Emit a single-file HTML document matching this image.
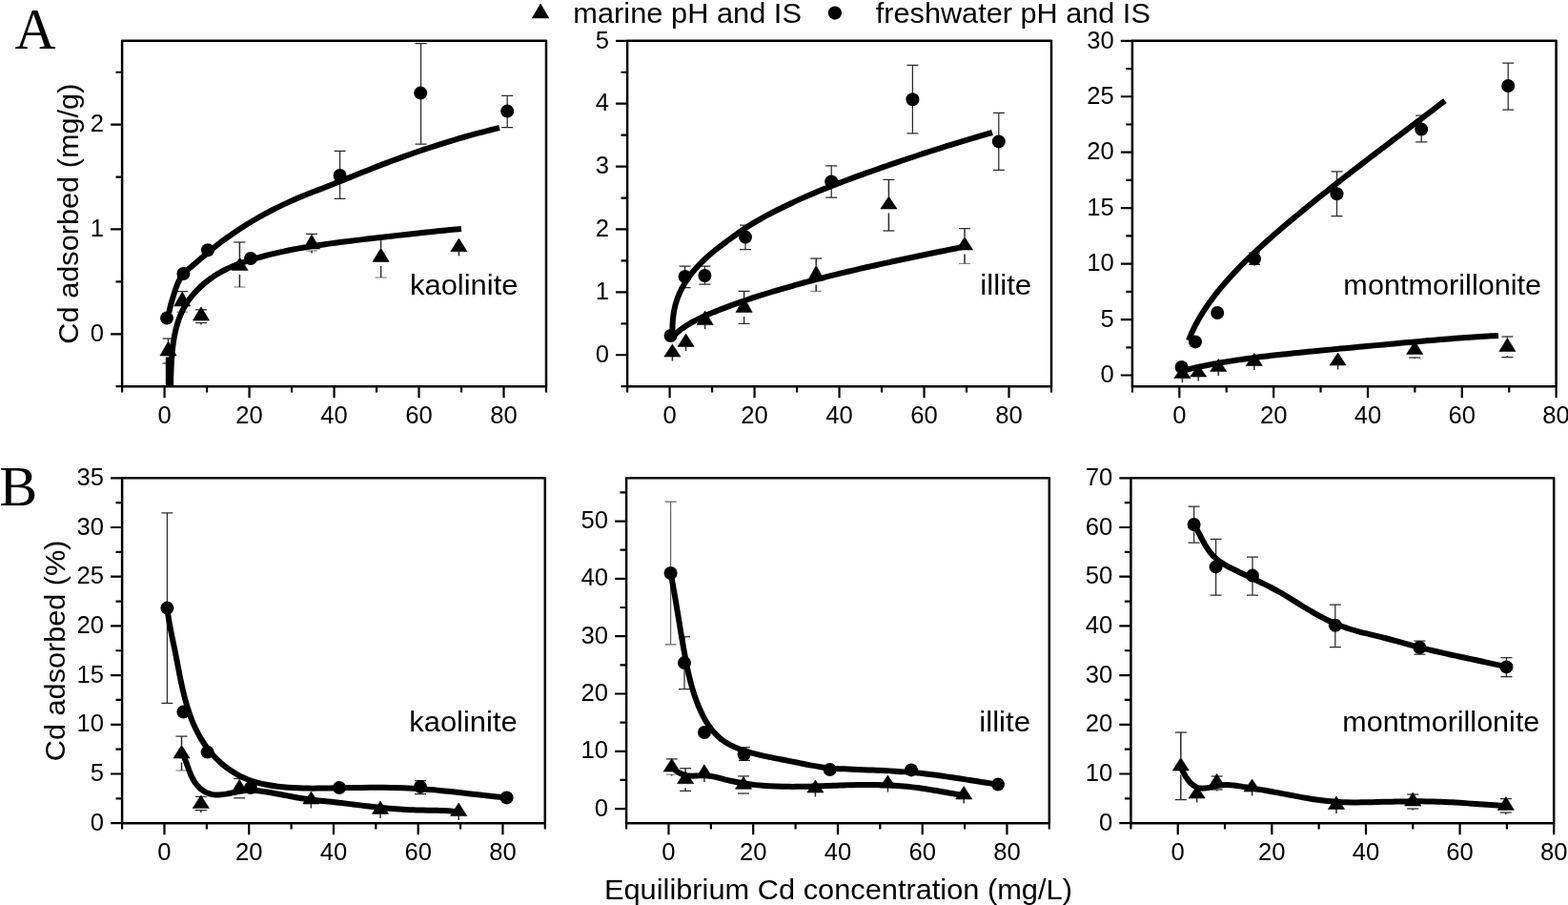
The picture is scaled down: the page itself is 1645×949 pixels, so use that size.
<!DOCTYPE html>
<html lang="en"><head><meta charset="utf-8"><title>Cd adsorption on clay minerals</title>
<style>html,body{margin:0;padding:0;background:#fff}body{width:1645px;height:949px;overflow:hidden}svg{display:block}text{fill:#000}</style></head><body>
<svg width="1645" height="949" viewBox="0 0 1645 949">
<rect width="1645" height="949" fill="#fff"/>
<rect x="128.1" y="42.8" width="444.9" height="362.4" fill="none" stroke="#000" stroke-width="2.5" stroke-linejoin="round"/>
<path d="M172.59,405.2V417.3M261.57,405.2V417.3M350.55,405.2V417.3M439.53,405.2V417.3M528.51,405.2V417.3M128.1,405.2V411.6M217.08,405.2V411.6M306.06,405.2V411.6M395.04,405.2V411.6M484.02,405.2V411.6M573,405.2V411.6M128.1,350.29H116M128.1,240.47H116M128.1,130.65H116M128.1,405.2H121.5M128.1,295.38H121.5M128.1,185.56H121.5M128.1,75.75H121.5" fill="none" stroke="#000" stroke-width="2.2" stroke-linecap="butt"/>
<text transform="translate(108.9,357.79)" font-family='"Liberation Sans", Arial, Helvetica, sans-serif' font-size="25.6" text-anchor="end" >0</text>
<text transform="translate(108.9,247.97)" font-family='"Liberation Sans", Arial, Helvetica, sans-serif' font-size="25.6" text-anchor="end" >1</text>
<text transform="translate(108.9,138.15)" font-family='"Liberation Sans", Arial, Helvetica, sans-serif' font-size="25.6" text-anchor="end" >2</text>
<text transform="translate(172.59,443.6)" font-family='"Liberation Sans", Arial, Helvetica, sans-serif' font-size="25.6" text-anchor="middle" >0</text>
<text transform="translate(261.57,443.6)" font-family='"Liberation Sans", Arial, Helvetica, sans-serif' font-size="25.6" text-anchor="middle" >20</text>
<text transform="translate(350.55,443.6)" font-family='"Liberation Sans", Arial, Helvetica, sans-serif' font-size="25.6" text-anchor="middle" >40</text>
<text transform="translate(439.53,443.6)" font-family='"Liberation Sans", Arial, Helvetica, sans-serif' font-size="25.6" text-anchor="middle" >60</text>
<text transform="translate(528.51,443.6)" font-family='"Liberation Sans", Arial, Helvetica, sans-serif' font-size="25.6" text-anchor="middle" >80</text>
<path d="M356.6,158.4V208.4M350.6,158.4H362.6M350.6,208.4H362.6" fill="none" stroke="#2b2b2b" stroke-width="1.25"/>
<path d="M441.6,45.6V151M435.6,45.6H447.6M435.6,151H447.6" fill="none" stroke="#2b2b2b" stroke-width="1.25"/>
<path d="M532.2,100.4V133.6M526.2,100.4H538.2M526.2,133.6H538.2" fill="none" stroke="#2b2b2b" stroke-width="1.25"/>
<path d="M170.5,355H182.5" fill="none" stroke="#2b2b2b" stroke-width="1.25"/>
<path d="M170.5,381H182.5" fill="none" stroke="#2b2b2b" stroke-width="1.25"/>
<path d="M176.5,355V358M176.5,377.5V381" fill="none" stroke="#2b2b2b" stroke-width="1.5"/>
<path d="M185.2,305.6H197.2" fill="none" stroke="#2b2b2b" stroke-width="1.25"/>
<path d="M185.2,327.2H197.2" fill="none" stroke="#8c8c8c" stroke-width="1.25"/>
<path d="M191.2,305.6V306M191.2,325.5V327.2" fill="none" stroke="#2b2b2b" stroke-width="1.5"/>
<path d="M205,324.8H217" fill="none" stroke="#2b2b2b" stroke-width="1.25"/>
<path d="M205,338.5H217" fill="none" stroke="#2b2b2b" stroke-width="1.25"/>
<path d="M211,340.5V338.5" fill="none" stroke="#2b2b2b" stroke-width="1.5"/>
<path d="M245.4,254H257.4" fill="none" stroke="#2b2b2b" stroke-width="1.25"/>
<path d="M245.4,301H257.4" fill="none" stroke="#8c8c8c" stroke-width="1.25"/>
<path d="M251.4,254V270M251.4,287.9V301" fill="none" stroke="#2b2b2b" stroke-width="1.5"/>
<path d="M321,245.4H333" fill="none" stroke="#2b2b2b" stroke-width="1.25"/>
<path d="M321,263H333" fill="none" stroke="#8c8c8c" stroke-width="1.25"/>
<path d="M327,245.4V246M327,265.5V263" fill="none" stroke="#2b2b2b" stroke-width="1.5"/>
<path d="M393.6,248H405.6" fill="none" stroke="#2b2b2b" stroke-width="1.25"/>
<path d="M393.6,291H405.6" fill="none" stroke="#8c8c8c" stroke-width="1.25"/>
<path d="M399.6,248V260.2M399.6,278.9V291" fill="none" stroke="#2b2b2b" stroke-width="1.5"/>
<path d="M481.4,263.8V268.3" fill="none" stroke="#2b2b2b" stroke-width="1.5"/>
<path d="M177.3,328C177.37,327.59 177.58,326.35 177.74,325.53C177.9,324.72 178.08,323.91 178.27,323.1C178.45,322.29 178.65,321.49 178.86,320.68C179.07,319.88 179.29,319.08 179.51,318.29C179.74,317.49 179.97,316.69 180.21,315.9C180.44,315.1 180.69,314.31 180.93,313.51C181.18,312.71 181.43,311.91 181.68,311.11C181.92,310.31 182.17,309.51 182.43,308.7C182.68,307.9 182.93,307.09 183.18,306.28C183.44,305.48 183.7,304.67 183.97,303.87C184.24,303.07 184.51,302.26 184.8,301.47C185.08,300.68 185.38,299.89 185.69,299.11C186,298.33 186.32,297.56 186.66,296.8C187,296.04 187.35,295.29 187.73,294.56C188.1,293.82 188.5,293.1 188.92,292.39C189.33,291.69 189.77,291 190.24,290.33C190.71,289.66 191.2,289.01 191.71,288.37C192.23,287.74 192.76,287.12 193.32,286.51C193.87,285.91 194.45,285.32 195.03,284.73C195.62,284.15 196.23,283.58 196.84,283.02C197.45,282.46 198.08,281.9 198.71,281.35C199.34,280.8 199.98,280.26 200.63,279.72C201.27,279.18 201.92,278.64 202.56,278.1C203.21,277.57 203.45,277.38 204.5,276.49C205.55,275.6 206.94,274.42 208.85,272.78C210.76,271.14 213.58,268.67 215.97,266.65C218.36,264.63 220.75,262.62 223.19,260.66C225.62,258.7 228.08,256.77 230.56,254.87C233.05,252.98 235.56,251.12 238.1,249.29C240.63,247.47 243.19,245.67 245.78,243.92C248.36,242.16 250.97,240.43 253.6,238.74C256.23,237.05 258.88,235.39 261.55,233.76C264.22,232.14 266.92,230.55 269.63,228.99C272.34,227.43 275.08,225.91 277.83,224.41C280.58,222.92 283.35,221.46 286.14,220.04C288.92,218.61 291.73,217.22 294.55,215.86C297.37,214.5 300.2,213.18 303.05,211.88C305.9,210.59 308.77,209.33 311.64,208.1C314.52,206.88 317.41,205.69 320.31,204.52C323.21,203.35 326.13,202.22 329.04,201.08C331.95,199.95 334.87,198.83 337.78,197.7C340.69,196.56 343.6,195.42 346.51,194.27C349.41,193.12 352.31,191.96 355.21,190.8C358.11,189.63 361.01,188.46 363.91,187.29C366.81,186.12 369.71,184.94 372.61,183.78C375.51,182.61 378.41,181.44 381.31,180.28C384.22,179.12 387.12,177.96 390.03,176.82C392.94,175.68 395.86,174.54 398.78,173.42C401.7,172.3 404.62,171.19 407.55,170.09C410.48,168.99 413.42,167.9 416.35,166.82C419.29,165.75 422.23,164.68 425.18,163.63C428.13,162.58 431.08,161.53 434.03,160.51C436.99,159.48 439.95,158.46 442.91,157.46C445.88,156.46 448.85,155.47 451.82,154.5C454.79,153.53 457.77,152.56 460.75,151.62C463.73,150.67 466.72,149.74 469.71,148.82C472.7,147.9 475.69,147 478.69,146.11C481.69,145.23 484.7,144.35 487.7,143.5C490.71,142.64 493.72,141.8 496.74,140.97C499.75,140.15 502.78,139.34 505.8,138.55C508.82,137.76 511.85,136.98 514.89,136.22C517.92,135.46 522.48,134.37 524,134" fill="none" stroke="#000" stroke-width="6.0" stroke-linecap="butt" stroke-linejoin="round"/>
<path d="M178.6,405C178.62,404.59 178.68,403.38 178.72,402.57C178.76,401.76 178.79,400.94 178.83,400.13C178.87,399.31 178.9,398.49 178.94,397.67C178.98,396.85 179.01,396.02 179.05,395.2C179.08,394.37 179.12,393.54 179.16,392.71C179.19,391.88 179.23,391.05 179.27,390.22C179.31,389.38 179.35,388.55 179.39,387.71C179.43,386.88 179.47,386.04 179.51,385.2C179.56,384.36 179.6,383.53 179.65,382.69C179.7,381.85 179.75,380.93 179.8,380.16C179.85,379.4 179.87,378.96 179.93,378.12C179.99,377.28 180.08,376.03 180.15,375.11C180.22,374.19 180.28,373.43 180.35,372.59C180.42,371.74 180.49,370.9 180.57,370.06C180.65,369.22 180.73,368.38 180.82,367.54C180.91,366.7 181,365.86 181.1,365.02C181.19,364.18 181.29,363.35 181.4,362.51C181.51,361.68 181.62,360.84 181.74,360.01C181.85,359.17 181.98,358.34 182.1,357.51C182.23,356.68 182.37,355.86 182.51,355.03C182.65,354.2 182.8,353.38 182.95,352.56C183.11,351.74 183.27,350.92 183.44,350.1C183.6,349.28 183.78,348.47 183.96,347.66C184.15,346.85 184.31,346.13 184.53,345.23C184.76,344.34 184.72,344.19 185.3,342.29C185.88,340.38 186.98,336.57 188,333.8C189.03,331.03 190.17,328.3 191.47,325.65C192.77,323 194.2,320.4 195.81,317.9C197.41,315.39 199.19,312.96 201.09,310.62C202.99,308.28 205.06,306.01 207.2,303.85C209.34,301.68 211.62,299.6 213.93,297.63C216.24,295.65 218.63,293.76 221.08,291.99C223.52,290.21 226.03,288.55 228.6,287C231.16,285.46 233.8,284.05 236.48,282.72C239.16,281.4 241.9,280.19 244.67,279.05C247.43,277.9 250.25,276.86 253.07,275.85C255.89,274.84 258.75,273.9 261.61,273C264.46,272.09 267.33,271.22 270.21,270.4C273.09,269.57 275.98,268.78 278.88,268.02C281.78,267.26 284.69,266.54 287.6,265.85C290.52,265.16 293.44,264.5 296.37,263.87C299.3,263.23 302.24,262.63 305.18,262.06C308.13,261.48 311.08,260.93 314.03,260.4C316.99,259.87 319.95,259.36 322.92,258.88C325.88,258.39 328.85,257.92 331.82,257.47C334.8,257.02 337.78,256.59 340.75,256.17C343.73,255.75 346.72,255.35 349.7,254.95C352.68,254.55 355.67,254.17 358.65,253.8C361.64,253.42 364.63,253.05 367.61,252.69C370.6,252.32 373.58,251.97 376.57,251.61C379.55,251.25 382.54,250.9 385.52,250.55C388.5,250.19 391.48,249.84 394.46,249.49C397.44,249.14 400.42,248.79 403.4,248.45C406.38,248.1 409.36,247.75 412.34,247.41C415.32,247.07 418.29,246.73 421.27,246.4C424.25,246.06 427.23,245.73 430.21,245.4C433.19,245.07 436.17,244.75 439.15,244.43C442.13,244.11 445.12,243.79 448.1,243.48C451.08,243.17 454.07,242.86 457.06,242.56C460.04,242.26 463.03,241.96 466.02,241.67C469.01,241.38 472.01,241.09 475,240.82C478,240.54 482.5,240.14 484,240" fill="none" stroke="#000" stroke-width="6.0" stroke-linecap="butt" stroke-linejoin="round"/>
<circle cx="175" cy="333.6" r="7" fill="#000"/>
<circle cx="192.4" cy="287" r="7" fill="#000"/>
<circle cx="218" cy="262.2" r="7" fill="#000"/>
<circle cx="263" cy="271" r="7" fill="#000"/>
<circle cx="356.6" cy="184" r="7" fill="#000"/>
<circle cx="441.2" cy="97.6" r="7" fill="#000"/>
<circle cx="532.2" cy="116.6" r="7" fill="#000"/>
<polygon points="176.5,358 185.1,373 167.9,373" fill="#000" stroke="#000" stroke-width="0.6" stroke-linejoin="round"/>
<polygon points="191.2,306 199.8,321 182.6,321" fill="#000" stroke="#000" stroke-width="0.6" stroke-linejoin="round"/>
<polygon points="211,321.8 219.6,336 202.4,336" fill="#000" stroke="#000" stroke-width="0.6" stroke-linejoin="round"/>
<polygon points="251.6,270 260.2,283.4 243,283.4" fill="#000" stroke="#000" stroke-width="0.6" stroke-linejoin="round"/>
<polygon points="327,246 335.6,261 318.4,261" fill="#000" stroke="#000" stroke-width="0.6" stroke-linejoin="round"/>
<polygon points="399.6,260.2 408.2,274.4 391,274.4" fill="#000" stroke="#000" stroke-width="0.6" stroke-linejoin="round"/>
<polygon points="481.4,250 490,263.8 472.8,263.8" fill="#000" stroke="#000" stroke-width="0.6" stroke-linejoin="round"/>
<path d="M178,374.5V405" fill="none" stroke="#000" stroke-width="8.4"/>
<rect x="658.1" y="42.8" width="444.9" height="362.4" fill="none" stroke="#000" stroke-width="2.5" stroke-linejoin="round"/>
<path d="M702.59,405.2V417.3M791.57,405.2V417.3M880.55,405.2V417.3M969.53,405.2V417.3M1058.51,405.2V417.3M658.1,405.2V411.6M747.08,405.2V411.6M836.06,405.2V411.6M925.04,405.2V411.6M1014.02,405.2V411.6M1103,405.2V411.6M658.1,372.25H646M658.1,306.36H646M658.1,240.47H646M658.1,174.58H646M658.1,108.69H646M658.1,42.8H646M658.1,405.2H651.5M658.1,339.31H651.5M658.1,273.42H651.5M658.1,207.53H651.5M658.1,141.64H651.5M658.1,75.75H651.5" fill="none" stroke="#000" stroke-width="2.2" stroke-linecap="butt"/>
<text transform="translate(638.9,379.75)" font-family='"Liberation Sans", Arial, Helvetica, sans-serif' font-size="25.6" text-anchor="end" >0</text>
<text transform="translate(638.9,313.86)" font-family='"Liberation Sans", Arial, Helvetica, sans-serif' font-size="25.6" text-anchor="end" >1</text>
<text transform="translate(638.9,247.97)" font-family='"Liberation Sans", Arial, Helvetica, sans-serif' font-size="25.6" text-anchor="end" >2</text>
<text transform="translate(638.9,182.08)" font-family='"Liberation Sans", Arial, Helvetica, sans-serif' font-size="25.6" text-anchor="end" >3</text>
<text transform="translate(638.9,116.19)" font-family='"Liberation Sans", Arial, Helvetica, sans-serif' font-size="25.6" text-anchor="end" >4</text>
<text transform="translate(638.9,50.7)" font-family='"Liberation Sans", Arial, Helvetica, sans-serif' font-size="25.6" text-anchor="end" >5</text>
<text transform="translate(702.59,443.6)" font-family='"Liberation Sans", Arial, Helvetica, sans-serif' font-size="25.6" text-anchor="middle" >0</text>
<text transform="translate(791.57,443.6)" font-family='"Liberation Sans", Arial, Helvetica, sans-serif' font-size="25.6" text-anchor="middle" >20</text>
<text transform="translate(880.55,443.6)" font-family='"Liberation Sans", Arial, Helvetica, sans-serif' font-size="25.6" text-anchor="middle" >40</text>
<text transform="translate(969.53,443.6)" font-family='"Liberation Sans", Arial, Helvetica, sans-serif' font-size="25.6" text-anchor="middle" >60</text>
<text transform="translate(1058.51,443.6)" font-family='"Liberation Sans", Arial, Helvetica, sans-serif' font-size="25.6" text-anchor="middle" >80</text>
<path d="M718.6,279V301.6M712.6,279H724.6M712.6,301.6H724.6" fill="none" stroke="#2b2b2b" stroke-width="1.25"/>
<path d="M739.4,279V298M733.4,279H745.4M733.4,298H745.4" fill="none" stroke="#2b2b2b" stroke-width="1.25"/>
<path d="M782,236V261.6M776,236H788M776,261.6H788" fill="none" stroke="#2b2b2b" stroke-width="1.25"/>
<path d="M872.2,173.8V207.2M866.2,173.8H878.2M866.2,207.2H878.2" fill="none" stroke="#2b2b2b" stroke-width="1.25"/>
<path d="M957.4,68.4V139.8M951.4,68.4H963.4M951.4,139.8H963.4" fill="none" stroke="#2b2b2b" stroke-width="1.25"/>
<path d="M1047.8,118.4V178.4M1041.8,118.4H1053.8M1041.8,178.4H1053.8" fill="none" stroke="#2b2b2b" stroke-width="1.25"/>
<path d="M705.4,374V378.5" fill="none" stroke="#2b2b2b" stroke-width="1.5"/>
<path d="M719.6,363.4V367.9" fill="none" stroke="#2b2b2b" stroke-width="1.5"/>
<path d="M739.6,340.6V345.1" fill="none" stroke="#2b2b2b" stroke-width="1.5"/>
<path d="M774.6,305.4H786.6" fill="none" stroke="#2b2b2b" stroke-width="1.25"/>
<path d="M774.6,339.4H786.6" fill="none" stroke="#2b2b2b" stroke-width="1.25"/>
<path d="M780.6,305.4V312M780.6,331.9V339.4" fill="none" stroke="#2b2b2b" stroke-width="1.5"/>
<path d="M850.2,271H862.2" fill="none" stroke="#2b2b2b" stroke-width="1.25"/>
<path d="M850.2,305.4H862.2" fill="none" stroke="#8c8c8c" stroke-width="1.25"/>
<path d="M856.2,271V278.6M856.2,298.5V305.4" fill="none" stroke="#2b2b2b" stroke-width="1.5"/>
<path d="M926.4,188.4H938.4" fill="none" stroke="#2b2b2b" stroke-width="1.25"/>
<path d="M926.4,242H938.4" fill="none" stroke="#2b2b2b" stroke-width="1.25"/>
<path d="M932.4,188.4V206M932.4,223.5V242" fill="none" stroke="#2b2b2b" stroke-width="1.5"/>
<path d="M1006,239.6H1018" fill="none" stroke="#2b2b2b" stroke-width="1.25"/>
<path d="M1006,276.4H1018" fill="none" stroke="#8c8c8c" stroke-width="1.25"/>
<path d="M1012,239.6V248.6M1012,266.5V276.4" fill="none" stroke="#2b2b2b" stroke-width="1.5"/>
<path d="M705.6,353C705.59,352.59 705.53,351.36 705.51,350.54C705.48,349.71 705.47,348.89 705.46,348.06C705.45,347.23 705.44,346.33 705.45,345.56C705.45,344.79 705.45,344.27 705.47,343.43C705.49,342.6 705.53,341.44 705.57,340.54C705.6,339.64 705.65,338.86 705.7,338.02C705.76,337.18 705.82,336.34 705.89,335.5C705.96,334.67 706.05,333.83 706.14,332.99C706.23,332.15 706.33,331.32 706.45,330.48C706.56,329.65 706.68,328.82 706.82,327.99C706.95,327.16 707.09,326.33 707.25,325.5C707.41,324.68 707.57,323.86 707.75,323.04C707.93,322.22 708.13,321.41 708.33,320.6C708.53,319.79 708.75,318.98 708.98,318.18C709.21,317.38 709.45,316.59 709.7,315.8C709.96,315.01 710.22,314.22 710.5,313.44C710.78,312.66 711.07,311.88 711.37,311.11C711.67,310.34 711.99,309.57 712.31,308.81C712.63,308.04 712.97,307.29 713.32,306.53C713.66,305.78 714.02,305.04 714.39,304.29C714.75,303.55 715.13,302.81 715.52,302.08C715.9,301.35 716.3,300.62 716.71,299.9C717.12,299.18 717.53,298.46 717.96,297.75C718.39,297.04 718.36,296.99 719.26,295.63C720.17,294.26 721.72,291.82 723.42,289.56C725.11,287.29 727.34,284.47 729.44,282.04C731.54,279.62 733.76,277.28 736.03,275.01C738.3,272.74 740.67,270.56 743.07,268.44C745.47,266.31 747.95,264.26 750.45,262.24C752.95,260.22 755.51,258.26 758.07,256.32C760.64,254.38 763.24,252.48 765.83,250.59C768.42,248.7 771.01,246.81 773.63,244.96C776.24,243.12 778.85,241.27 781.51,239.51C784.18,237.75 786.89,236.04 789.63,234.38C792.37,232.72 795.16,231.11 797.95,229.54C800.75,227.96 803.58,226.43 806.41,224.93C809.24,223.42 812.09,221.94 814.95,220.49C817.82,219.04 820.69,217.62 823.58,216.22C826.46,214.83 829.36,213.45 832.27,212.1C835.17,210.75 838.09,209.43 841.02,208.13C843.95,206.82 846.89,205.54 849.83,204.28C852.78,203.01 855.74,201.77 858.7,200.55C861.66,199.32 864.64,198.12 867.62,196.93C870.59,195.74 873.58,194.57 876.57,193.41C879.56,192.25 882.56,191.1 885.57,189.97C888.57,188.84 891.58,187.72 894.59,186.61C897.6,185.51 900.62,184.41 903.64,183.32C906.66,182.24 909.69,181.16 912.72,180.09C915.74,179.02 918.77,177.96 921.8,176.9C924.83,175.84 927.87,174.79 930.9,173.74C933.93,172.7 936.97,171.66 940,170.62C943.04,169.58 946.08,168.55 949.12,167.53C952.16,166.51 955.2,165.49 958.24,164.47C961.29,163.46 964.33,162.46 967.38,161.46C970.42,160.46 973.47,159.47 976.53,158.48C979.58,157.5 982.63,156.52 985.69,155.55C988.74,154.58 991.8,153.62 994.86,152.66C997.92,151.71 1000.99,150.76 1004.05,149.83C1007.12,148.89 1010.19,147.96 1013.26,147.04C1016.33,146.12 1019.41,145.2 1022.49,144.3C1025.57,143.4 1028.65,142.5 1031.73,141.62C1034.82,140.74 1039.45,139.43 1041,139" fill="none" stroke="#000" stroke-width="6.0" stroke-linecap="butt" stroke-linejoin="round"/>
<path d="M705.6,353C705.9,352.7 706.81,351.82 707.42,351.25C708.04,350.67 708.69,350.09 709.29,349.56C709.9,349.04 710.4,348.61 711.05,348.08C711.69,347.55 712.47,346.92 713.16,346.39C713.84,345.86 714.53,345.35 715.15,344.9C715.76,344.44 716.16,344.16 716.84,343.69C717.52,343.22 718.48,342.56 719.23,342.07C719.98,341.58 720.62,341.17 721.32,340.73C722.03,340.3 722.74,339.87 723.45,339.45C724.16,339.02 724.88,338.61 725.6,338.2C726.32,337.79 727.04,337.39 727.77,337C728.5,336.61 729.24,336.22 729.97,335.84C730.71,335.46 731.45,335.08 732.19,334.71C732.94,334.34 733.69,333.98 734.44,333.62C735.19,333.26 735.94,332.9 736.69,332.55C737.45,332.2 738.21,331.86 738.97,331.52C739.73,331.18 740.49,330.84 741.26,330.51C742.02,330.17 742.79,329.84 743.56,329.52C744.32,329.19 745.09,328.87 745.86,328.54C746.64,328.22 747.41,327.9 748.18,327.59C748.95,327.27 749.73,326.96 750.5,326.65C751.28,326.33 752.05,326.02 752.83,325.71C753.6,325.41 754.38,325.1 755.16,324.79C755.93,324.49 756.22,324.37 757.49,323.88C758.76,323.39 760.76,322.62 762.78,321.86C764.81,321.1 767.34,320.15 769.63,319.32C771.92,318.49 774.21,317.67 776.5,316.86C778.8,316.06 781.1,315.26 783.4,314.48C785.71,313.7 788.01,312.93 790.32,312.17C792.63,311.41 794.95,310.66 797.27,309.92C799.58,309.18 801.9,308.46 804.23,307.74C806.55,307.02 808.88,306.31 811.21,305.61C813.54,304.91 815.87,304.22 818.2,303.54C820.54,302.85 822.87,302.18 825.21,301.51C827.55,300.84 829.89,300.18 832.23,299.53C834.57,298.87 836.92,298.23 839.26,297.59C841.61,296.95 843.95,296.31 846.3,295.68C848.65,295.06 851,294.43 853.35,293.82C855.7,293.2 858.06,292.59 860.41,291.99C862.77,291.39 865.12,290.79 867.48,290.19C869.84,289.6 872.2,289.01 874.56,288.43C876.92,287.85 879.28,287.27 881.64,286.7C884.01,286.13 886.37,285.56 888.73,285C891.1,284.43 893.47,283.88 895.83,283.32C898.2,282.77 900.57,282.22 902.94,281.67C905.31,281.13 907.68,280.59 910.05,280.05C912.42,279.51 914.8,278.98 917.17,278.45C919.54,277.92 921.92,277.39 924.29,276.87C926.67,276.35 929.04,275.83 931.42,275.31C933.79,274.79 936.17,274.28 938.55,273.77C940.93,273.26 943.31,272.75 945.68,272.24C948.06,271.74 950.44,271.23 952.82,270.73C955.2,270.23 957.58,269.73 959.96,269.24C962.35,268.74 964.73,268.24 967.11,267.75C969.49,267.26 971.87,266.77 974.25,266.28C976.64,265.79 979.02,265.3 981.4,264.81C983.79,264.32 986.17,263.84 988.55,263.35C990.93,262.86 993.32,262.38 995.7,261.9C998.08,261.41 1000.47,260.93 1002.85,260.45C1005.23,259.96 1008.81,259.24 1010,259" fill="none" stroke="#000" stroke-width="6.0" stroke-linecap="butt" stroke-linejoin="round"/>
<circle cx="703.6" cy="352" r="7" fill="#000"/>
<circle cx="718.6" cy="290" r="7" fill="#000"/>
<circle cx="739.4" cy="289" r="7" fill="#000"/>
<circle cx="782" cy="248.6" r="7" fill="#000"/>
<circle cx="872.2" cy="190.4" r="7" fill="#000"/>
<circle cx="957.4" cy="104.2" r="7" fill="#000"/>
<circle cx="1047.8" cy="148.4" r="7" fill="#000"/>
<polygon points="705.4,361 714,374 696.8,374" fill="#000" stroke="#000" stroke-width="0.6" stroke-linejoin="round"/>
<polygon points="719.6,350 728.2,363.4 711,363.4" fill="#000" stroke="#000" stroke-width="0.6" stroke-linejoin="round"/>
<polygon points="739.6,326 748.2,340.6 731,340.6" fill="#000" stroke="#000" stroke-width="0.6" stroke-linejoin="round"/>
<polygon points="780.6,312 789.2,327.4 772,327.4" fill="#000" stroke="#000" stroke-width="0.6" stroke-linejoin="round"/>
<polygon points="856.2,278.6 864.8,294 847.6,294" fill="#000" stroke="#000" stroke-width="0.6" stroke-linejoin="round"/>
<polygon points="932.4,206 941,219 923.8,219" fill="#000" stroke="#000" stroke-width="0.6" stroke-linejoin="round"/>
<polygon points="1012,248.6 1020.6,262 1003.4,262" fill="#000" stroke="#000" stroke-width="0.6" stroke-linejoin="round"/>
<rect x="1187.9" y="42.8" width="444.7" height="362.4" fill="none" stroke="#000" stroke-width="2.5" stroke-linejoin="round"/>
<path d="M1237.31,405.2V417.3M1336.13,405.2V417.3M1434.96,405.2V417.3M1533.78,405.2V417.3M1632.6,405.2V417.3M1187.9,405.2V411.6M1286.72,405.2V411.6M1385.54,405.2V411.6M1484.37,405.2V411.6M1583.19,405.2V411.6M1187.9,393.51H1175.8M1187.9,335.06H1175.8M1187.9,276.61H1175.8M1187.9,218.15H1175.8M1187.9,159.7H1175.8M1187.9,101.25H1175.8M1187.9,42.8H1175.8M1187.9,364.28H1181.3M1187.9,305.83H1181.3M1187.9,247.38H1181.3M1187.9,188.93H1181.3M1187.9,130.48H1181.3M1187.9,72.03H1181.3" fill="none" stroke="#000" stroke-width="2.2" stroke-linecap="butt"/>
<text transform="translate(1168.7,401.01)" font-family='"Liberation Sans", Arial, Helvetica, sans-serif' font-size="25.6" text-anchor="end" >0</text>
<text transform="translate(1168.7,342.56)" font-family='"Liberation Sans", Arial, Helvetica, sans-serif' font-size="25.6" text-anchor="end" >5</text>
<text transform="translate(1168.7,284.11)" font-family='"Liberation Sans", Arial, Helvetica, sans-serif' font-size="25.6" text-anchor="end" >10</text>
<text transform="translate(1168.7,225.65)" font-family='"Liberation Sans", Arial, Helvetica, sans-serif' font-size="25.6" text-anchor="end" >15</text>
<text transform="translate(1168.7,167.2)" font-family='"Liberation Sans", Arial, Helvetica, sans-serif' font-size="25.6" text-anchor="end" >20</text>
<text transform="translate(1168.7,108.75)" font-family='"Liberation Sans", Arial, Helvetica, sans-serif' font-size="25.6" text-anchor="end" >25</text>
<text transform="translate(1168.7,50.7)" font-family='"Liberation Sans", Arial, Helvetica, sans-serif' font-size="25.6" text-anchor="end" >30</text>
<text transform="translate(1237.31,443.6)" font-family='"Liberation Sans", Arial, Helvetica, sans-serif' font-size="25.6" text-anchor="middle" >0</text>
<text transform="translate(1336.13,443.6)" font-family='"Liberation Sans", Arial, Helvetica, sans-serif' font-size="25.6" text-anchor="middle" >20</text>
<text transform="translate(1434.96,443.6)" font-family='"Liberation Sans", Arial, Helvetica, sans-serif' font-size="25.6" text-anchor="middle" >40</text>
<text transform="translate(1533.78,443.6)" font-family='"Liberation Sans", Arial, Helvetica, sans-serif' font-size="25.6" text-anchor="middle" >60</text>
<text transform="translate(1632.6,443.6)" font-family='"Liberation Sans", Arial, Helvetica, sans-serif' font-size="25.6" text-anchor="middle" >80</text>
<path d="M1316,265V277.4M1310,265H1322M1310,277.4H1322" fill="none" stroke="#2b2b2b" stroke-width="1.25"/>
<path d="M1402.5,179.8V226.6M1396.5,179.8H1408.5M1396.5,226.6H1408.5" fill="none" stroke="#2b2b2b" stroke-width="1.25"/>
<path d="M1491.2,121V148.8M1485.2,121H1497.2M1485.2,148.8H1497.2" fill="none" stroke="#2b2b2b" stroke-width="1.25"/>
<path d="M1582.2,66V115M1576.2,66H1588.2M1576.2,115H1588.2" fill="none" stroke="#2b2b2b" stroke-width="1.25"/>
<path d="M1240.4,396.6V401.1" fill="none" stroke="#2b2b2b" stroke-width="1.5"/>
<path d="M1257.2,395V399.5" fill="none" stroke="#2b2b2b" stroke-width="1.5"/>
<path d="M1278.2,389.4V393.9" fill="none" stroke="#2b2b2b" stroke-width="1.5"/>
<path d="M1315.8,383.4V387.9" fill="none" stroke="#2b2b2b" stroke-width="1.5"/>
<path d="M1403.6,383V387.5" fill="none" stroke="#2b2b2b" stroke-width="1.5"/>
<path d="M1478.2,375H1490.2" fill="none" stroke="#2b2b2b" stroke-width="1.25"/>
<path d="M1484.2,375.9V375" fill="none" stroke="#2b2b2b" stroke-width="1.5"/>
<path d="M1575.4,353H1587.4" fill="none" stroke="#2b2b2b" stroke-width="1.25"/>
<path d="M1575.4,374.6H1587.4" fill="none" stroke="#2b2b2b" stroke-width="1.25"/>
<path d="M1581.4,353V354.6M1581.4,373.1V374.6" fill="none" stroke="#2b2b2b" stroke-width="1.5"/>
<path d="M1246.99,357C1247.14,356.61 1247.59,355.43 1247.9,354.64C1248.21,353.86 1248.52,353.09 1248.85,352.31C1249.17,351.54 1249.5,350.77 1249.83,350C1250.17,349.24 1250.51,348.47 1250.86,347.72C1251.21,346.96 1251.56,346.2 1251.92,345.45C1252.28,344.69 1252.64,343.95 1253.01,343.2C1253.39,342.45 1253.76,341.71 1254.14,340.97C1254.53,340.23 1254.91,339.5 1255.31,338.76C1255.7,338.03 1256.1,337.3 1256.5,336.57C1256.91,335.85 1257.32,335.12 1257.73,334.4C1258.14,333.68 1258.56,332.97 1258.99,332.25C1259.41,331.54 1259.84,330.83 1260.27,330.12C1260.71,329.41 1261.15,328.7 1261.59,328C1262.03,327.3 1262.48,326.6 1262.93,325.9C1263.38,325.2 1263.84,324.51 1264.3,323.82C1264.76,323.13 1265.24,322.41 1265.69,321.75C1266.14,321.1 1266.5,320.57 1266.97,319.89C1267.45,319.21 1268.04,318.37 1268.55,317.67C1269.05,316.96 1269.52,316.32 1270.01,315.65C1270.5,314.98 1270.99,314.31 1271.49,313.64C1271.99,312.98 1272.49,312.31 1273,311.65C1273.5,310.99 1274.01,310.33 1274.52,309.68C1275.03,309.02 1275.54,308.36 1276.06,307.71C1276.57,307.06 1276.55,307.07 1277.62,305.76C1278.68,304.46 1280.73,301.93 1282.46,299.89C1284.19,297.85 1286.12,295.62 1287.98,293.52C1289.85,291.41 1291.74,289.33 1293.66,287.27C1295.57,285.2 1297.51,283.16 1299.46,281.14C1301.42,279.11 1303.4,277.11 1305.39,275.12C1307.39,273.13 1309.41,271.16 1311.44,269.2C1313.47,267.24 1315.52,265.3 1317.58,263.37C1319.64,261.44 1321.72,259.53 1323.81,257.63C1325.89,255.73 1328,253.84 1330.11,251.96C1332.22,250.09 1334.34,248.22 1336.47,246.36C1338.6,244.51 1340.75,242.66 1342.89,240.82C1345.04,238.98 1347.19,237.15 1349.34,235.33C1351.5,233.51 1353.66,231.69 1355.83,229.88C1357.99,228.07 1360.16,226.27 1362.34,224.47C1364.51,222.67 1366.69,220.88 1368.87,219.09C1371.05,217.31 1373.24,215.53 1375.43,213.76C1377.62,211.98 1379.81,210.21 1382,208.45C1384.2,206.68 1386.4,204.92 1388.6,203.17C1390.81,201.42 1393.01,199.67 1395.22,197.92C1397.43,196.17 1399.64,194.43 1401.85,192.69C1404.07,190.96 1406.29,189.22 1408.51,187.49C1410.73,185.76 1412.95,184.04 1415.17,182.31C1417.4,180.59 1419.62,178.87 1421.85,177.15C1424.08,175.43 1426.31,173.72 1428.54,172C1430.78,170.29 1433.01,168.58 1435.25,166.87C1437.48,165.16 1439.72,163.45 1441.96,161.75C1444.2,160.04 1446.44,158.34 1448.68,156.63C1450.92,154.93 1453.16,153.23 1455.4,151.53C1457.65,149.83 1459.89,148.13 1462.13,146.43C1464.38,144.73 1466.62,143.03 1468.87,141.33C1471.11,139.63 1473.36,137.93 1475.61,136.23C1477.85,134.53 1480.1,132.83 1482.35,131.13C1484.59,129.43 1486.84,127.73 1489.08,126.02C1491.33,124.32 1493.58,122.62 1495.82,120.91C1498.07,119.2 1500.31,117.5 1502.55,115.79C1504.8,114.08 1507.04,112.37 1509.28,110.65C1511.52,108.94 1514.89,106.36 1516.01,105.51" fill="none" stroke="#000" stroke-width="6.0" stroke-linecap="butt" stroke-linejoin="round"/>
<path d="M1241.99,388.38C1242.4,388.28 1243.62,387.98 1244.43,387.79C1245.24,387.59 1246.05,387.4 1246.86,387.21C1247.67,387.01 1248.48,386.82 1249.3,386.64C1250.11,386.45 1250.92,386.26 1251.73,386.08C1252.55,385.89 1253.36,385.71 1254.17,385.53C1254.99,385.35 1255.8,385.17 1256.61,385C1257.43,384.82 1258.24,384.65 1259.06,384.48C1259.87,384.3 1260.69,384.13 1261.5,383.96C1262.32,383.8 1263.14,383.63 1263.95,383.46C1264.77,383.3 1265.59,383.14 1266.4,382.97C1267.22,382.81 1268.04,382.65 1268.85,382.5C1269.67,382.34 1270.49,382.18 1271.31,382.03C1272.12,381.87 1272.94,381.72 1273.76,381.57C1274.58,381.42 1275.4,381.27 1276.22,381.12C1277.04,380.97 1277.86,380.83 1278.68,380.68C1279.5,380.54 1280.32,380.39 1281.14,380.25C1281.96,380.11 1282.78,379.97 1283.6,379.83C1284.42,379.69 1285.24,379.56 1286.06,379.42C1286.88,379.28 1287.7,379.15 1288.52,379.02C1289.35,378.88 1290.17,378.75 1290.99,378.62C1291.81,378.49 1292.63,378.36 1293.46,378.24C1294.28,378.11 1295.1,377.98 1295.93,377.86C1296.75,377.73 1297.57,377.61 1298.4,377.49C1299.22,377.36 1299.14,377.37 1300.87,377.12C1302.59,376.88 1306.2,376.36 1308.76,376.01C1311.33,375.66 1313.75,375.34 1316.25,375.02C1318.74,374.7 1321.24,374.39 1323.74,374.08C1326.24,373.78 1328.74,373.48 1331.24,373.19C1333.74,372.9 1336.24,372.62 1338.75,372.34C1341.25,372.06 1343.75,371.79 1346.26,371.52C1348.76,371.25 1351.27,370.99 1353.77,370.73C1356.28,370.47 1358.78,370.21 1361.29,369.96C1363.79,369.7 1366.3,369.45 1368.81,369.2C1371.31,368.95 1373.82,368.71 1376.32,368.46C1378.83,368.21 1381.34,367.97 1383.85,367.73C1386.35,367.49 1388.86,367.25 1391.37,367.01C1393.87,366.77 1396.38,366.53 1398.89,366.3C1401.4,366.06 1403.9,365.83 1406.41,365.59C1408.92,365.36 1411.43,365.13 1413.93,364.9C1416.44,364.66 1418.95,364.43 1421.46,364.2C1423.97,363.97 1426.47,363.74 1428.98,363.51C1431.49,363.28 1434,363.05 1436.5,362.81C1439.01,362.58 1441.52,362.35 1444.02,362.12C1446.53,361.89 1449.04,361.66 1451.55,361.43C1454.05,361.19 1456.56,360.96 1459.07,360.73C1461.57,360.49 1464.08,360.26 1466.58,360.03C1469.09,359.79 1471.6,359.56 1474.1,359.33C1476.61,359.1 1479.12,358.87 1481.62,358.64C1484.13,358.41 1486.64,358.19 1489.14,357.96C1491.65,357.74 1494.16,357.51 1496.66,357.29C1499.17,357.07 1501.68,356.86 1504.19,356.64C1506.69,356.43 1509.2,356.22 1511.71,356.01C1514.22,355.8 1516.73,355.6 1519.23,355.4C1521.74,355.2 1524.25,355 1526.76,354.81C1529.27,354.62 1531.78,354.43 1534.29,354.25C1536.8,354.07 1539.32,353.89 1541.83,353.73C1544.34,353.56 1546.85,353.39 1549.36,353.23C1551.88,353.08 1554.39,352.92 1556.9,352.78C1559.42,352.63 1561.93,352.5 1564.45,352.37C1566.97,352.23 1570.74,352.06 1572,352" fill="none" stroke="#000" stroke-width="6.0" stroke-linecap="butt" stroke-linejoin="round"/>
<circle cx="1239.6" cy="385" r="7" fill="#000"/>
<circle cx="1254" cy="358.4" r="7" fill="#000"/>
<circle cx="1277.2" cy="328" r="7" fill="#000"/>
<circle cx="1316" cy="271.4" r="7" fill="#000"/>
<circle cx="1402.5" cy="203.3" r="7" fill="#000"/>
<circle cx="1491.2" cy="135.6" r="7" fill="#000"/>
<circle cx="1582.2" cy="90" r="7" fill="#000"/>
<polygon points="1240.4,384 1249,396.6 1231.8,396.6" fill="#000" stroke="#000" stroke-width="0.6" stroke-linejoin="round"/>
<polygon points="1257.2,383 1265.8,395 1248.6,395" fill="#000" stroke="#000" stroke-width="0.6" stroke-linejoin="round"/>
<polygon points="1278.2,376.4 1286.8,389.4 1269.6,389.4" fill="#000" stroke="#000" stroke-width="0.6" stroke-linejoin="round"/>
<polygon points="1315.8,370.4 1324.4,383.4 1307.2,383.4" fill="#000" stroke="#000" stroke-width="0.6" stroke-linejoin="round"/>
<polygon points="1403.6,370 1412.2,383 1395,383" fill="#000" stroke="#000" stroke-width="0.6" stroke-linejoin="round"/>
<polygon points="1484.2,358 1492.8,371.4 1475.6,371.4" fill="#000" stroke="#000" stroke-width="0.6" stroke-linejoin="round"/>
<polygon points="1581.4,354.6 1590,368.6 1572.8,368.6" fill="#000" stroke="#000" stroke-width="0.6" stroke-linejoin="round"/>
<rect x="128.1" y="501.3" width="443.7" height="361.9" fill="none" stroke="#000" stroke-width="2.5" stroke-linejoin="round"/>
<path d="M172.47,863.2V875.3M261.21,863.2V875.3M349.95,863.2V875.3M438.69,863.2V875.3M527.43,863.2V875.3M128.1,863.2V869.6M216.84,863.2V869.6M305.58,863.2V869.6M394.32,863.2V869.6M483.06,863.2V869.6M571.8,863.2V869.6M128.1,863.2H116M128.1,811.5H116M128.1,759.8H116M128.1,708.1H116M128.1,656.4H116M128.1,604.7H116M128.1,553H116M128.1,501.3H116M128.1,837.35H121.5M128.1,785.65H121.5M128.1,733.95H121.5M128.1,682.25H121.5M128.1,630.55H121.5M128.1,578.85H121.5M128.1,527.15H121.5" fill="none" stroke="#000" stroke-width="2.2" stroke-linecap="butt"/>
<text transform="translate(108.9,870.7)" font-family='"Liberation Sans", Arial, Helvetica, sans-serif' font-size="25.6" text-anchor="end" >0</text>
<text transform="translate(108.9,819)" font-family='"Liberation Sans", Arial, Helvetica, sans-serif' font-size="25.6" text-anchor="end" >5</text>
<text transform="translate(108.9,767.3)" font-family='"Liberation Sans", Arial, Helvetica, sans-serif' font-size="25.6" text-anchor="end" >10</text>
<text transform="translate(108.9,715.6)" font-family='"Liberation Sans", Arial, Helvetica, sans-serif' font-size="25.6" text-anchor="end" >15</text>
<text transform="translate(108.9,663.9)" font-family='"Liberation Sans", Arial, Helvetica, sans-serif' font-size="25.6" text-anchor="end" >20</text>
<text transform="translate(108.9,612.2)" font-family='"Liberation Sans", Arial, Helvetica, sans-serif' font-size="25.6" text-anchor="end" >25</text>
<text transform="translate(108.9,560.5)" font-family='"Liberation Sans", Arial, Helvetica, sans-serif' font-size="25.6" text-anchor="end" >30</text>
<text transform="translate(108.9,509.2)" font-family='"Liberation Sans", Arial, Helvetica, sans-serif' font-size="25.6" text-anchor="end" >35</text>
<text transform="translate(172.47,901.7)" font-family='"Liberation Sans", Arial, Helvetica, sans-serif' font-size="25.6" text-anchor="middle" >0</text>
<text transform="translate(261.21,901.7)" font-family='"Liberation Sans", Arial, Helvetica, sans-serif' font-size="25.6" text-anchor="middle" >20</text>
<text transform="translate(349.95,901.7)" font-family='"Liberation Sans", Arial, Helvetica, sans-serif' font-size="25.6" text-anchor="middle" >40</text>
<text transform="translate(438.69,901.7)" font-family='"Liberation Sans", Arial, Helvetica, sans-serif' font-size="25.6" text-anchor="middle" >60</text>
<text transform="translate(527.43,901.7)" font-family='"Liberation Sans", Arial, Helvetica, sans-serif' font-size="25.6" text-anchor="middle" >80</text>
<path d="M175.4,537.8V737.4M169.4,537.8H181.4M169.4,737.4H181.4" fill="none" stroke="#2b2b2b" stroke-width="1.25"/>
<path d="M441,818.6V832.6M435,818.6H447M435,832.6H447" fill="none" stroke="#2b2b2b" stroke-width="1.25"/>
<path d="M184.5,772.1H196.5" fill="none" stroke="#2b2b2b" stroke-width="1.25"/>
<path d="M184.5,808H196.5" fill="none" stroke="#8c8c8c" stroke-width="1.25"/>
<path d="M190.5,772.1V781.4M190.5,799.6V808" fill="none" stroke="#2b2b2b" stroke-width="1.5"/>
<path d="M204.8,835.4H216.8" fill="none" stroke="#2b2b2b" stroke-width="1.25"/>
<path d="M204.8,849.6H216.8" fill="none" stroke="#2b2b2b" stroke-width="1.25"/>
<path d="M210.8,851.9V849.6" fill="none" stroke="#2b2b2b" stroke-width="1.5"/>
<path d="M245.2,816.5H257.2" fill="none" stroke="#2b2b2b" stroke-width="1.25"/>
<path d="M245.2,836.8H257.2" fill="none" stroke="#2b2b2b" stroke-width="1.25"/>
<path d="M251.2,816.5V817.4M251.2,835.9V836.8" fill="none" stroke="#2b2b2b" stroke-width="1.5"/>
<path d="M326.4,843V847.5" fill="none" stroke="#2b2b2b" stroke-width="1.5"/>
<path d="M399,853.4V857.9" fill="none" stroke="#2b2b2b" stroke-width="1.5"/>
<path d="M481.2,855.6V860.1" fill="none" stroke="#2b2b2b" stroke-width="1.5"/>
<path d="M175.4,637.6C175.45,638.02 175.6,639.27 175.7,640.1C175.8,640.93 175.91,641.76 176.03,642.59C176.14,643.42 176.26,644.25 176.38,645.08C176.5,645.9 176.63,646.73 176.76,647.55C176.88,648.38 177.02,649.2 177.15,650.02C177.29,650.84 177.43,651.66 177.57,652.49C177.71,653.31 177.86,654.12 178,654.94C178.15,655.76 178.3,656.58 178.46,657.4C178.61,658.21 178.76,659.03 178.92,659.85C179.08,660.66 179.24,661.48 179.4,662.29C179.56,663.11 179.72,663.92 179.88,664.74C180.05,665.55 180.21,666.36 180.38,667.18C180.54,667.99 180.71,668.81 180.88,669.62C181.04,670.43 181.21,671.25 181.38,672.06C181.55,672.87 181.72,673.69 181.89,674.5C182.06,675.31 182.23,676.13 182.4,676.94C182.56,677.76 182.73,678.57 182.9,679.38C183.07,680.2 183.24,681.01 183.4,681.83C183.57,682.64 183.74,683.46 183.9,684.28C184.06,685.09 184.23,685.91 184.39,686.73C184.55,687.55 184.72,688.41 184.87,689.18C185.02,689.96 185.14,690.56 185.3,691.38C185.46,692.2 185.66,693.24 185.82,694.1C185.99,694.97 186.04,695.22 186.3,696.57C186.55,697.91 186.84,699.43 187.37,702.16C187.9,704.89 188.76,709.36 189.5,712.94C190.24,716.52 191,720.11 191.83,723.67C192.65,727.22 193.52,730.77 194.48,734.29C195.44,737.8 196.45,741.3 197.59,744.76C198.72,748.22 199.93,751.66 201.28,755.03C202.63,758.41 204.09,761.77 205.69,765.03C207.28,768.3 209,771.53 210.86,774.65C212.73,777.77 214.73,780.82 216.9,783.76C219.06,786.69 221.38,789.54 223.84,792.24C226.31,794.95 228.93,797.55 231.67,799.97C234.41,802.4 237.3,804.7 240.29,806.8C243.27,808.9 246.39,810.85 249.59,812.58C252.79,814.31 256.11,815.84 259.49,817.17C262.86,818.5 266.35,819.6 269.85,820.57C273.36,821.54 276.95,822.31 280.53,823C284.11,823.68 287.73,824.21 291.35,824.67C294.97,825.13 298.59,825.47 302.23,825.75C305.86,826.03 309.5,826.22 313.14,826.36C316.79,826.51 320.44,826.57 324.09,826.61C327.74,826.65 331.4,826.62 335.06,826.6C338.71,826.57 342.37,826.49 346.03,826.43C349.68,826.37 353.34,826.29 356.99,826.22C360.64,826.16 364.3,826.09 367.95,826.03C371.6,825.97 375.25,825.92 378.89,825.88C382.54,825.84 386.19,825.81 389.83,825.8C393.48,825.79 397.12,825.79 400.76,825.82C404.41,825.85 408.05,825.89 411.69,825.97C415.33,826.04 418.97,826.14 422.61,826.27C426.25,826.4 429.89,826.56 433.53,826.75C437.17,826.95 440.8,827.18 444.44,827.45C448.08,827.71 451.72,828.02 455.35,828.35C458.99,828.68 462.63,829.04 466.26,829.42C469.9,829.79 473.53,830.19 477.17,830.6C480.8,831 484.43,831.42 488.07,831.84C491.7,832.25 495.33,832.68 498.96,833.09C502.59,833.5 506.22,833.91 509.85,834.3C513.48,834.69 517.1,835.07 520.73,835.42C524.35,835.77 529.79,836.24 531.6,836.4" fill="none" stroke="#000" stroke-width="6.0" stroke-linecap="butt" stroke-linejoin="round"/>
<path d="M190.6,789C190.8,789.35 191.4,790.39 191.77,791.11C192.14,791.83 192.51,792.61 192.84,793.3C193.16,794 193.39,794.52 193.71,795.28C194.03,796.05 194.43,797.06 194.76,797.89C195.08,798.72 195.35,799.46 195.65,800.25C195.94,801.05 196.22,801.85 196.51,802.65C196.8,803.45 197.09,804.25 197.38,805.05C197.67,805.85 197.96,806.66 198.26,807.46C198.56,808.25 198.86,809.05 199.18,809.84C199.49,810.64 199.81,811.42 200.15,812.2C200.48,812.98 200.83,813.76 201.19,814.52C201.55,815.28 201.93,816.03 202.33,816.77C202.72,817.51 203.14,818.24 203.58,818.96C204.01,819.67 204.47,820.37 204.95,821.05C205.44,821.73 205.95,822.4 206.48,823.05C207.01,823.69 207.57,824.32 208.15,824.92C208.73,825.52 209.33,826.1 209.96,826.65C210.58,827.2 211.22,827.73 211.88,828.23C212.54,828.72 213.23,829.19 213.92,829.63C214.62,830.06 215.34,830.47 216.07,830.83C216.79,831.2 217.54,831.53 218.3,831.83C219.06,832.12 219.83,832.37 220.61,832.59C221.39,832.81 222.18,832.98 222.98,833.12C223.78,833.27 224.23,833.38 225.4,833.44C226.57,833.5 228.04,833.64 230.01,833.5C231.98,833.37 234.79,833.02 237.2,832.63C239.61,832.24 242.05,831.63 244.46,831.15C246.87,830.66 249.29,830.09 251.67,829.71C254.06,829.33 256.42,829.02 258.78,828.87C261.14,828.72 263.49,828.73 265.84,828.83C268.2,828.94 270.56,829.22 272.92,829.5C275.27,829.78 277.63,830.14 279.99,830.51C282.35,830.87 284.71,831.28 287.06,831.7C289.42,832.11 291.78,832.56 294.14,833C296.5,833.45 298.86,833.91 301.22,834.36C303.58,834.8 305.95,835.26 308.31,835.69C310.68,836.12 313.04,836.54 315.41,836.93C317.78,837.32 320.15,837.69 322.53,838.02C324.9,838.35 327.27,838.65 329.65,838.94C332.03,839.22 334.41,839.48 336.79,839.74C339.16,840 341.54,840.23 343.92,840.48C346.3,840.74 348.68,840.98 351.06,841.24C353.44,841.5 355.82,841.77 358.2,842.04C360.58,842.32 362.96,842.6 365.34,842.89C367.72,843.17 370.1,843.46 372.48,843.75C374.86,844.04 377.24,844.33 379.61,844.62C381.99,844.91 384.37,845.19 386.76,845.47C389.14,845.75 391.52,846.02 393.9,846.29C396.28,846.55 398.66,846.81 401.05,847.05C403.43,847.29 405.81,847.53 408.2,847.74C410.59,847.96 412.97,848.16 415.36,848.35C417.75,848.53 420.14,848.7 422.53,848.84C424.92,848.99 427.31,849.11 429.7,849.21C432.1,849.31 434.49,849.39 436.89,849.45C439.29,849.51 441.69,849.55 444.08,849.6C446.48,849.64 448.88,849.67 451.28,849.71C453.68,849.75 456.07,849.79 458.47,849.85C460.87,849.91 463.26,849.98 465.66,850.07C468.05,850.17 470.45,850.28 472.84,850.44C475.23,850.59 478.81,850.91 480,851" fill="none" stroke="#000" stroke-width="6.0" stroke-linecap="butt" stroke-linejoin="round"/>
<circle cx="175.4" cy="637.6" r="7" fill="#000"/>
<circle cx="192.4" cy="746.6" r="7" fill="#000"/>
<circle cx="217.6" cy="788.6" r="7" fill="#000"/>
<circle cx="263" cy="826" r="7" fill="#000"/>
<circle cx="356" cy="826" r="7" fill="#000"/>
<circle cx="441" cy="825" r="7" fill="#000"/>
<circle cx="531.6" cy="836.4" r="7" fill="#000"/>
<polygon points="190.5,781.4 199.1,795.1 181.9,795.1" fill="#000" stroke="#000" stroke-width="0.6" stroke-linejoin="round"/>
<polygon points="210.8,834 219.4,847.4 202.2,847.4" fill="#000" stroke="#000" stroke-width="0.6" stroke-linejoin="round"/>
<polygon points="251.2,817.4 259.8,831.4 242.6,831.4" fill="#000" stroke="#000" stroke-width="0.6" stroke-linejoin="round"/>
<polygon points="326.4,830 335,843 317.8,843" fill="#000" stroke="#000" stroke-width="0.6" stroke-linejoin="round"/>
<polygon points="399,840 407.6,853.4 390.4,853.4" fill="#000" stroke="#000" stroke-width="0.6" stroke-linejoin="round"/>
<polygon points="481.2,842 489.8,855.6 472.6,855.6" fill="#000" stroke="#000" stroke-width="0.6" stroke-linejoin="round"/>
<rect x="657.1" y="501.3" width="443.7" height="361.9" fill="none" stroke="#000" stroke-width="2.5" stroke-linejoin="round"/>
<path d="M701.47,863.2V875.3M790.21,863.2V875.3M878.95,863.2V875.3M967.69,863.2V875.3M1056.43,863.2V875.3M657.1,863.2V869.6M745.84,863.2V869.6M834.58,863.2V869.6M923.32,863.2V869.6M1012.06,863.2V869.6M1100.8,863.2V869.6M657.1,848.12H645M657.1,787.8H645M657.1,727.49H645M657.1,667.17H645M657.1,606.85H645M657.1,546.54H645M657.1,817.96H650.5M657.1,757.65H650.5M657.1,697.33H650.5M657.1,637.01H650.5M657.1,576.7H650.5M657.1,516.38H650.5" fill="none" stroke="#000" stroke-width="2.2" stroke-linecap="butt"/>
<text transform="translate(637.9,855.62)" font-family='"Liberation Sans", Arial, Helvetica, sans-serif' font-size="25.6" text-anchor="end" >0</text>
<text transform="translate(637.9,795.3)" font-family='"Liberation Sans", Arial, Helvetica, sans-serif' font-size="25.6" text-anchor="end" >10</text>
<text transform="translate(637.9,734.99)" font-family='"Liberation Sans", Arial, Helvetica, sans-serif' font-size="25.6" text-anchor="end" >20</text>
<text transform="translate(637.9,674.67)" font-family='"Liberation Sans", Arial, Helvetica, sans-serif' font-size="25.6" text-anchor="end" >30</text>
<text transform="translate(637.9,614.35)" font-family='"Liberation Sans", Arial, Helvetica, sans-serif' font-size="25.6" text-anchor="end" >40</text>
<text transform="translate(637.9,554.04)" font-family='"Liberation Sans", Arial, Helvetica, sans-serif' font-size="25.6" text-anchor="end" >50</text>
<text transform="translate(701.47,901.7)" font-family='"Liberation Sans", Arial, Helvetica, sans-serif' font-size="25.6" text-anchor="middle" >0</text>
<text transform="translate(790.21,901.7)" font-family='"Liberation Sans", Arial, Helvetica, sans-serif' font-size="25.6" text-anchor="middle" >20</text>
<text transform="translate(878.95,901.7)" font-family='"Liberation Sans", Arial, Helvetica, sans-serif' font-size="25.6" text-anchor="middle" >40</text>
<text transform="translate(967.69,901.7)" font-family='"Liberation Sans", Arial, Helvetica, sans-serif' font-size="25.6" text-anchor="middle" >60</text>
<text transform="translate(1056.43,901.7)" font-family='"Liberation Sans", Arial, Helvetica, sans-serif' font-size="25.6" text-anchor="middle" >80</text>
<path d="M703.6,526V675.8M697.6,526H709.6M697.6,675.8H709.6" fill="none" stroke="#666" stroke-width="1.25"/>
<path d="M718,667.6V722.6M712,667.6H724M712,722.6H724" fill="none" stroke="#2b2b2b" stroke-width="1.25"/>
<path d="M780.9,783.7V797.3M774.9,783.7H786.9M774.9,797.3H786.9" fill="none" stroke="#2b2b2b" stroke-width="1.25"/>
<path d="M698.7,795.9H710.7" fill="none" stroke="#2b2b2b" stroke-width="1.25"/>
<path d="M698.7,812.1H710.7" fill="none" stroke="#8c8c8c" stroke-width="1.25"/>
<path d="M704.7,813.6V812.1" fill="none" stroke="#2b2b2b" stroke-width="1.5"/>
<path d="M713.1,805.7H725.1" fill="none" stroke="#2b2b2b" stroke-width="1.25"/>
<path d="M713.1,829.4H725.1" fill="none" stroke="#2b2b2b" stroke-width="1.25"/>
<path d="M719.1,805.7V808.2M719.1,826.2V829.4" fill="none" stroke="#2b2b2b" stroke-width="1.5"/>
<path d="M738.9,815.4V819.9" fill="none" stroke="#2b2b2b" stroke-width="1.5"/>
<path d="M774,813.9H786" fill="none" stroke="#2b2b2b" stroke-width="1.25"/>
<path d="M774,832H786" fill="none" stroke="#2b2b2b" stroke-width="1.25"/>
<path d="M780,813.9V814.5M780,831.8V832" fill="none" stroke="#2b2b2b" stroke-width="1.5"/>
<path d="M855.4,831V835.5" fill="none" stroke="#2b2b2b" stroke-width="1.5"/>
<path d="M931.4,826V830.5" fill="none" stroke="#2b2b2b" stroke-width="1.5"/>
<path d="M1011.2,838V842.5" fill="none" stroke="#2b2b2b" stroke-width="1.5"/>
<path d="M703.6,601C703.68,601.41 703.92,602.63 704.08,603.45C704.24,604.27 704.39,605.09 704.55,605.91C704.7,606.73 704.86,607.54 705.01,608.36C705.16,609.18 705.32,610 705.47,610.82C705.62,611.64 705.77,612.46 705.92,613.28C706.07,614.1 706.21,614.92 706.36,615.74C706.51,616.56 706.65,617.38 706.8,618.2C706.94,619.02 707.09,619.84 707.23,620.66C707.38,621.48 707.52,622.3 707.66,623.12C707.8,623.94 707.95,624.77 708.09,625.59C708.23,626.41 708.37,627.23 708.51,628.05C708.65,628.87 708.79,629.7 708.93,630.52C709.06,631.34 709.2,632.16 709.34,632.98C709.48,633.81 709.62,634.63 709.75,635.45C709.89,636.27 710.03,637.1 710.16,637.92C710.3,638.74 710.43,639.56 710.57,640.39C710.71,641.21 710.84,642.03 710.98,642.85C711.11,643.68 711.25,644.5 711.38,645.32C711.52,646.15 711.65,646.97 711.79,647.79C711.92,648.61 712.06,649.44 712.19,650.26C712.33,651.08 712.47,651.95 712.59,652.73C712.72,653.51 712.82,654.11 712.96,654.93C713.09,655.75 713.26,656.8 713.41,657.66C713.55,658.53 713.59,658.79 713.81,660.13C714.04,661.48 714.28,663 714.74,665.73C715.21,668.46 715.96,672.93 716.58,676.52C717.21,680.12 717.84,683.71 718.51,687.3C719.17,690.88 719.84,694.47 720.57,698.04C721.3,701.61 722.06,705.17 722.89,708.72C723.73,712.26 724.61,715.79 725.6,719.29C726.58,722.8 727.63,726.28 728.8,729.74C729.98,733.19 731.23,736.63 732.63,740.02C734.04,743.41 735.54,746.81 737.22,750.08C738.9,753.36 740.69,756.64 742.71,759.68C744.72,762.73 746.89,765.69 749.31,768.35C751.73,771.02 754.36,773.48 757.21,775.65C760.06,777.81 763.2,779.66 766.42,781.33C769.64,783.01 773.09,784.4 776.53,785.7C779.98,786.99 783.56,788.07 787.09,789.1C790.62,790.12 794.18,791 797.73,791.85C801.28,792.69 804.83,793.43 808.39,794.17C811.95,794.91 815.51,795.58 819.08,796.27C822.64,796.97 826.21,797.64 829.78,798.35C833.36,799.06 836.93,799.82 840.51,800.53C844.09,801.25 847.67,802 851.26,802.65C854.85,803.3 858.45,803.94 862.06,804.44C865.67,804.93 869.28,805.33 872.91,805.64C876.53,805.95 880.17,806.09 883.8,806.28C887.44,806.47 891.08,806.62 894.73,806.78C898.37,806.93 902.02,807.06 905.66,807.2C909.31,807.34 912.96,807.47 916.61,807.61C920.26,807.76 923.91,807.9 927.56,808.08C931.2,808.25 934.85,808.43 938.49,808.64C942.14,808.86 945.78,809.09 949.42,809.37C953.06,809.64 956.69,809.95 960.32,810.31C963.95,810.66 967.58,811.05 971.2,811.48C974.82,811.9 978.44,812.36 982.05,812.84C985.67,813.32 989.28,813.83 992.89,814.35C996.51,814.87 1000.11,815.41 1003.72,815.96C1007.33,816.51 1010.94,817.08 1014.54,817.64C1018.15,818.2 1021.75,818.77 1025.36,819.33C1028.97,819.89 1032.57,820.45 1036.18,821C1039.78,821.54 1045.2,822.33 1047,822.6" fill="none" stroke="#000" stroke-width="6.0" stroke-linecap="butt" stroke-linejoin="round"/>
<path d="M705,804C705.29,804.31 706.14,805.28 706.74,805.89C707.34,806.49 708.03,807.1 708.62,807.6C709.21,808.1 709.59,808.4 710.28,808.88C710.97,809.36 711.98,810.01 712.77,810.46C713.56,810.91 714.24,811.24 715,811.57C715.75,811.9 716.52,812.19 717.3,812.44C718.08,812.69 718.88,812.9 719.68,813.07C720.48,813.24 721.29,813.36 722.1,813.45C722.92,813.54 723.74,813.59 724.57,813.62C725.39,813.65 726.23,813.65 727.06,813.64C727.9,813.63 728.74,813.59 729.58,813.56C730.42,813.52 731.26,813.47 732.1,813.43C732.95,813.39 733.79,813.33 734.63,813.3C735.47,813.27 736.32,813.24 737.15,813.23C737.99,813.23 738.83,813.24 739.66,813.27C740.49,813.31 741.34,813.37 742.14,813.45C742.95,813.52 743.67,813.61 744.49,813.72C745.31,813.84 746.22,813.98 747.05,814.13C747.89,814.28 748.68,814.44 749.49,814.61C750.3,814.78 751.11,814.97 751.92,815.16C752.73,815.35 753.53,815.55 754.34,815.75C755.14,815.96 755.95,816.17 756.75,816.38C757.56,816.59 758.36,816.81 759.17,817.02C759.98,817.23 760.61,817.41 761.59,817.66C762.57,817.91 763.33,818.13 765.05,818.52C766.78,818.92 769.65,819.57 771.96,820.04C774.27,820.5 776.59,820.91 778.91,821.29C781.24,821.67 783.57,822 785.9,822.31C788.24,822.62 790.58,822.89 792.92,823.13C795.26,823.37 797.6,823.58 799.95,823.77C802.29,823.95 804.64,824.11 806.98,824.25C809.33,824.38 811.68,824.49 814.03,824.58C816.37,824.67 818.72,824.73 821.08,824.78C823.43,824.83 825.78,824.86 828.13,824.87C830.48,824.89 832.84,824.88 835.19,824.87C837.54,824.85 839.9,824.82 842.25,824.78C844.61,824.74 846.96,824.69 849.32,824.63C851.68,824.57 854.03,824.5 856.39,824.43C858.75,824.36 861.1,824.28 863.46,824.2C865.82,824.12 868.17,824.03 870.53,823.95C872.89,823.86 875.24,823.78 877.6,823.7C879.96,823.62 882.31,823.53 884.67,823.46C887.03,823.39 889.38,823.32 891.74,823.26C894.09,823.2 896.45,823.14 898.8,823.1C901.16,823.06 903.51,823.02 905.86,823C908.22,822.98 910.57,822.97 912.92,822.98C915.27,822.99 917.62,823.01 919.97,823.05C922.32,823.09 924.67,823.15 927.02,823.22C929.37,823.3 931.71,823.39 934.06,823.5C936.41,823.62 938.75,823.75 941.09,823.91C943.44,824.06 945.78,824.24 948.12,824.45C950.46,824.65 952.8,824.88 955.14,825.14C957.48,825.4 959.82,825.68 962.16,825.99C964.49,826.3 966.83,826.64 969.16,827C971.49,827.35 973.83,827.73 976.16,828.12C978.49,828.5 980.82,828.91 983.14,829.31C985.47,829.72 987.8,830.13 990.12,830.54C992.45,830.95 994.77,831.36 997.09,831.76C999.41,832.15 1001.73,832.55 1004.05,832.92C1006.37,833.3 1009.84,833.82 1011,834" fill="none" stroke="#000" stroke-width="6.0" stroke-linecap="butt" stroke-linejoin="round"/>
<circle cx="703.6" cy="601" r="7" fill="#000"/>
<circle cx="718" cy="695" r="7" fill="#000"/>
<circle cx="739" cy="768" r="7" fill="#000"/>
<circle cx="780.6" cy="791" r="7" fill="#000"/>
<circle cx="870.6" cy="807" r="7" fill="#000"/>
<circle cx="956" cy="807.4" r="7" fill="#000"/>
<circle cx="1047" cy="822.6" r="7" fill="#000"/>
<polygon points="704.7,795.5 713.3,809.1 696.1,809.1" fill="#000" stroke="#000" stroke-width="0.6" stroke-linejoin="round"/>
<polygon points="719.1,808.2 727.7,821.7 710.5,821.7" fill="#000" stroke="#000" stroke-width="0.6" stroke-linejoin="round"/>
<polygon points="738.9,801.8 747.5,815.4 730.3,815.4" fill="#000" stroke="#000" stroke-width="0.6" stroke-linejoin="round"/>
<polygon points="780,814.5 788.6,827.3 771.4,827.3" fill="#000" stroke="#000" stroke-width="0.6" stroke-linejoin="round"/>
<polygon points="855.4,818 864,831 846.8,831" fill="#000" stroke="#000" stroke-width="0.6" stroke-linejoin="round"/>
<polygon points="931.4,813 940,826 922.8,826" fill="#000" stroke="#000" stroke-width="0.6" stroke-linejoin="round"/>
<polygon points="1011.2,824.6 1019.8,838 1002.6,838" fill="#000" stroke="#000" stroke-width="0.6" stroke-linejoin="round"/>
<rect x="1186.4" y="501.3" width="443.8" height="361.9" fill="none" stroke="#000" stroke-width="2.5" stroke-linejoin="round"/>
<path d="M1235.71,863.2V875.3M1334.33,863.2V875.3M1432.96,863.2V875.3M1531.58,863.2V875.3M1630.2,863.2V875.3M1186.4,863.2V869.6M1285.02,863.2V869.6M1383.64,863.2V869.6M1482.27,863.2V869.6M1580.89,863.2V869.6M1186.4,863.2H1174.3M1186.4,811.5H1174.3M1186.4,759.8H1174.3M1186.4,708.1H1174.3M1186.4,656.4H1174.3M1186.4,604.7H1174.3M1186.4,553H1174.3M1186.4,501.3H1174.3M1186.4,837.35H1179.8M1186.4,785.65H1179.8M1186.4,733.95H1179.8M1186.4,682.25H1179.8M1186.4,630.55H1179.8M1186.4,578.85H1179.8M1186.4,527.15H1179.8" fill="none" stroke="#000" stroke-width="2.2" stroke-linecap="butt"/>
<text transform="translate(1167.2,870.7)" font-family='"Liberation Sans", Arial, Helvetica, sans-serif' font-size="25.6" text-anchor="end" >0</text>
<text transform="translate(1167.2,819)" font-family='"Liberation Sans", Arial, Helvetica, sans-serif' font-size="25.6" text-anchor="end" >10</text>
<text transform="translate(1167.2,767.3)" font-family='"Liberation Sans", Arial, Helvetica, sans-serif' font-size="25.6" text-anchor="end" >20</text>
<text transform="translate(1167.2,715.6)" font-family='"Liberation Sans", Arial, Helvetica, sans-serif' font-size="25.6" text-anchor="end" >30</text>
<text transform="translate(1167.2,663.9)" font-family='"Liberation Sans", Arial, Helvetica, sans-serif' font-size="25.6" text-anchor="end" >40</text>
<text transform="translate(1167.2,612.2)" font-family='"Liberation Sans", Arial, Helvetica, sans-serif' font-size="25.6" text-anchor="end" >50</text>
<text transform="translate(1167.2,560.5)" font-family='"Liberation Sans", Arial, Helvetica, sans-serif' font-size="25.6" text-anchor="end" >60</text>
<text transform="translate(1167.2,509.2)" font-family='"Liberation Sans", Arial, Helvetica, sans-serif' font-size="25.6" text-anchor="end" >70</text>
<text transform="translate(1235.71,901.7)" font-family='"Liberation Sans", Arial, Helvetica, sans-serif' font-size="25.6" text-anchor="middle" >0</text>
<text transform="translate(1334.33,901.7)" font-family='"Liberation Sans", Arial, Helvetica, sans-serif' font-size="25.6" text-anchor="middle" >20</text>
<text transform="translate(1432.96,901.7)" font-family='"Liberation Sans", Arial, Helvetica, sans-serif' font-size="25.6" text-anchor="middle" >40</text>
<text transform="translate(1531.58,901.7)" font-family='"Liberation Sans", Arial, Helvetica, sans-serif' font-size="25.6" text-anchor="middle" >60</text>
<text transform="translate(1630.2,901.7)" font-family='"Liberation Sans", Arial, Helvetica, sans-serif' font-size="25.6" text-anchor="middle" >80</text>
<path d="M1252.6,531V569M1246.6,531H1258.6M1246.6,569H1258.6" fill="none" stroke="#2b2b2b" stroke-width="1.25"/>
<path d="M1275.6,565.4V624M1269.6,565.4H1281.6M1269.6,624H1281.6" fill="none" stroke="#2b2b2b" stroke-width="1.25"/>
<path d="M1314,584V624M1308,584H1320M1308,624H1320" fill="none" stroke="#2b2b2b" stroke-width="1.25"/>
<path d="M1400.8,634V678.6M1394.8,634H1406.8M1394.8,678.6H1406.8" fill="none" stroke="#2b2b2b" stroke-width="1.25"/>
<path d="M1489.4,672V686M1483.4,672H1495.4M1483.4,686H1495.4" fill="none" stroke="#2b2b2b" stroke-width="1.25"/>
<path d="M1580.4,689.6V709.6M1574.4,689.6H1586.4M1574.4,709.6H1586.4" fill="none" stroke="#2b2b2b" stroke-width="1.25"/>
<path d="M1232.8,768H1244.8" fill="none" stroke="#2b2b2b" stroke-width="1.25"/>
<path d="M1232.8,838.6H1244.8" fill="none" stroke="#2b2b2b" stroke-width="1.25"/>
<path d="M1238.8,768V794.6M1238.8,812.5V838.6" fill="none" stroke="#2b2b2b" stroke-width="1.5"/>
<path d="M1255.6,837V841.5" fill="none" stroke="#2b2b2b" stroke-width="1.5"/>
<path d="M1270.6,814H1282.6" fill="none" stroke="#2b2b2b" stroke-width="1.25"/>
<path d="M1270.6,828H1282.6" fill="none" stroke="#2b2b2b" stroke-width="1.25"/>
<path d="M1276.6,829.5V828" fill="none" stroke="#2b2b2b" stroke-width="1.5"/>
<path d="M1313.6,830V834.5" fill="none" stroke="#2b2b2b" stroke-width="1.5"/>
<path d="M1402,848.6V853.1" fill="none" stroke="#2b2b2b" stroke-width="1.5"/>
<path d="M1476.2,833H1488.2" fill="none" stroke="#2b2b2b" stroke-width="1.25"/>
<path d="M1476.2,848H1488.2" fill="none" stroke="#2b2b2b" stroke-width="1.25"/>
<path d="M1482.2,849.5V848" fill="none" stroke="#2b2b2b" stroke-width="1.5"/>
<path d="M1573.8,837.6H1585.8" fill="none" stroke="#2b2b2b" stroke-width="1.25"/>
<path d="M1573.8,852H1585.8" fill="none" stroke="#2b2b2b" stroke-width="1.25"/>
<path d="M1579.8,853.9V852" fill="none" stroke="#2b2b2b" stroke-width="1.5"/>
<path d="M1252.6,550C1252.82,550.34 1253.47,551.37 1253.89,552.07C1254.31,552.77 1254.72,553.48 1255.12,554.2C1255.53,554.92 1255.93,555.65 1256.33,556.38C1256.72,557.12 1257.11,557.86 1257.5,558.61C1257.89,559.35 1258.28,560.1 1258.67,560.86C1259.06,561.61 1259.44,562.37 1259.83,563.12C1260.22,563.87 1260.61,564.63 1261.01,565.39C1261.4,566.14 1261.8,566.89 1262.2,567.64C1262.6,568.39 1263.01,569.13 1263.43,569.87C1263.84,570.61 1264.27,571.34 1264.7,572.07C1265.13,572.79 1265.57,573.51 1266.03,574.21C1266.48,574.92 1266.94,575.61 1267.42,576.29C1267.9,576.98 1268.39,577.65 1268.89,578.3C1269.39,578.96 1269.91,579.6 1270.44,580.23C1270.97,580.86 1271.52,581.48 1272.08,582.08C1272.64,582.68 1273.25,583.31 1273.79,583.84C1274.34,584.37 1274.71,584.73 1275.33,585.27C1275.94,585.81 1276.79,586.54 1277.47,587.09C1278.16,587.64 1278.77,588.1 1279.43,588.58C1280.1,589.06 1280.78,589.52 1281.46,589.98C1282.15,590.43 1282.85,590.87 1283.56,591.3C1284.27,591.73 1284.98,592.15 1285.71,592.57C1286.43,592.98 1287.16,593.38 1287.89,593.78C1288.63,594.18 1288.63,594.2 1290.11,594.95C1291.58,595.71 1294.37,597.14 1296.75,598.31C1299.12,599.48 1301.82,600.78 1304.36,601.99C1306.9,603.21 1309.45,604.4 1312,605.61C1314.54,606.81 1317.09,608 1319.63,609.22C1322.16,610.44 1324.7,611.65 1327.21,612.9C1329.73,614.15 1332.24,615.42 1334.72,616.73C1337.2,618.03 1339.66,619.37 1342.11,620.76C1344.55,622.14 1346.96,623.57 1349.37,625.01C1351.78,626.45 1354.17,627.93 1356.56,629.41C1358.96,630.88 1361.34,632.38 1363.73,633.86C1366.13,635.33 1368.53,636.81 1370.94,638.26C1373.36,639.7 1375.79,641.14 1378.23,642.53C1380.68,643.92 1383.14,645.29 1385.63,646.61C1388.11,647.93 1390.61,649.21 1393.14,650.43C1395.67,651.65 1398.21,652.83 1400.79,653.93C1403.36,655.04 1405.96,656.08 1408.58,657.05C1411.21,658.02 1413.86,658.91 1416.54,659.75C1419.21,660.59 1421.91,661.35 1424.62,662.09C1427.34,662.83 1430.07,663.51 1432.8,664.19C1435.53,664.88 1438.28,665.52 1441.02,666.18C1443.76,666.84 1446.5,667.49 1449.24,668.17C1451.97,668.85 1454.7,669.55 1457.42,670.26C1460.14,670.97 1462.85,671.7 1465.56,672.43C1468.28,673.17 1470.98,673.91 1473.69,674.65C1476.4,675.38 1479.11,676.13 1481.82,676.85C1484.53,677.58 1487.24,678.3 1489.96,678.99C1492.68,679.69 1495.4,680.37 1498.13,681.04C1500.86,681.71 1503.59,682.35 1506.32,682.99C1509.06,683.63 1511.79,684.26 1514.53,684.88C1517.27,685.5 1520.02,686.1 1522.76,686.71C1525.51,687.31 1528.25,687.9 1531,688.49C1533.75,689.08 1536.5,689.67 1539.24,690.26C1541.99,690.84 1544.74,691.43 1547.49,692.01C1550.24,692.6 1552.99,693.19 1555.73,693.78C1558.48,694.37 1561.23,694.97 1563.97,695.57C1566.71,696.18 1569.45,696.79 1572.19,697.41C1574.93,698.03 1579.03,698.98 1580.4,699.3" fill="none" stroke="#000" stroke-width="6.0" stroke-linecap="butt" stroke-linejoin="round"/>
<path d="M1240,807C1240.17,807.35 1240.66,808.38 1241.02,809.1C1241.39,809.82 1241.77,810.56 1242.18,811.3C1242.59,812.04 1243.01,812.8 1243.46,813.54C1243.91,814.29 1244.38,815.04 1244.88,815.77C1245.37,816.5 1245.88,817.23 1246.42,817.93C1246.95,818.63 1247.51,819.31 1248.08,819.96C1248.66,820.6 1249.25,821.23 1249.87,821.81C1250.49,822.38 1251.13,822.93 1251.79,823.42C1252.45,823.91 1253.13,824.35 1253.83,824.73C1254.52,825.12 1255.25,825.44 1255.98,825.71C1256.72,825.97 1257.48,826.18 1258.25,826.33C1259.01,826.48 1259.8,826.57 1260.59,826.61C1261.39,826.66 1262.2,826.64 1263.01,826.6C1263.82,826.55 1264.64,826.46 1265.47,826.35C1266.29,826.23 1267.15,826.08 1267.95,825.93C1268.76,825.78 1269.48,825.62 1270.31,825.45C1271.14,825.27 1272.09,825.05 1272.94,824.86C1273.8,824.67 1274.61,824.49 1275.44,824.31C1276.27,824.14 1277.11,823.97 1277.94,823.82C1278.77,823.67 1279.6,823.54 1280.44,823.44C1281.27,823.33 1282.1,823.25 1282.93,823.19C1283.76,823.13 1284.59,823.1 1285.42,823.08C1286.25,823.06 1287.08,823.07 1287.91,823.09C1288.74,823.1 1289.36,823.12 1290.4,823.19C1291.44,823.26 1292.21,823.28 1294.16,823.52C1296.1,823.75 1299.43,824.21 1302.06,824.61C1304.69,825.01 1307.32,825.46 1309.94,825.89C1312.56,826.33 1315.18,826.77 1317.79,827.21C1320.41,827.66 1323.02,828.11 1325.63,828.57C1328.25,829.03 1330.86,829.5 1333.47,829.98C1336.08,830.45 1338.69,830.93 1341.3,831.42C1343.92,831.91 1346.53,832.41 1349.15,832.91C1351.76,833.4 1354.38,833.91 1357,834.39C1359.62,834.88 1362.24,835.37 1364.86,835.84C1367.48,836.3 1370.1,836.76 1372.73,837.19C1375.36,837.62 1377.99,838.04 1380.62,838.42C1383.25,838.8 1385.88,839.16 1388.52,839.47C1391.15,839.79 1393.79,840.08 1396.43,840.32C1399.08,840.56 1401.72,840.75 1404.37,840.91C1407.02,841.06 1409.67,841.17 1412.32,841.25C1414.97,841.33 1417.62,841.36 1420.28,841.38C1422.94,841.4 1425.59,841.39 1428.25,841.37C1430.91,841.34 1433.57,841.29 1436.23,841.24C1438.89,841.18 1441.55,841.11 1444.21,841.05C1446.87,840.98 1449.53,840.91 1452.19,840.84C1454.84,840.77 1457.5,840.71 1460.16,840.65C1462.82,840.59 1465.47,840.54 1468.13,840.5C1470.79,840.45 1473.44,840.41 1476.1,840.39C1478.76,840.36 1481.41,840.34 1484.07,840.34C1486.72,840.33 1489.38,840.34 1492.03,840.36C1494.69,840.38 1497.34,840.41 1500,840.46C1502.65,840.51 1505.31,840.58 1507.96,840.66C1510.62,840.75 1513.27,840.85 1515.93,840.97C1518.58,841.09 1521.24,841.22 1523.89,841.37C1526.55,841.51 1529.2,841.68 1531.86,841.84C1534.51,842.01 1537.16,842.19 1539.82,842.37C1542.47,842.55 1545.13,842.74 1547.78,842.92C1550.43,843.11 1553.09,843.3 1555.74,843.49C1558.39,843.67 1561.05,843.86 1563.7,844.03C1566.35,844.21 1569,844.38 1571.65,844.55C1574.3,844.71 1578.28,844.92 1579.6,845" fill="none" stroke="#000" stroke-width="6.0" stroke-linecap="butt" stroke-linejoin="round"/>
<circle cx="1252.6" cy="550" r="7" fill="#000"/>
<circle cx="1275.6" cy="594.4" r="7" fill="#000"/>
<circle cx="1314" cy="603.6" r="7" fill="#000"/>
<circle cx="1400.8" cy="655.8" r="7" fill="#000"/>
<circle cx="1489.4" cy="679" r="7" fill="#000"/>
<circle cx="1580.4" cy="699.4" r="7" fill="#000"/>
<polygon points="1238.8,794.6 1247.4,808 1230.2,808" fill="#000" stroke="#000" stroke-width="0.6" stroke-linejoin="round"/>
<polygon points="1255.6,824 1264.2,837 1247,837" fill="#000" stroke="#000" stroke-width="0.6" stroke-linejoin="round"/>
<polygon points="1276.6,811.4 1285.2,825 1268,825" fill="#000" stroke="#000" stroke-width="0.6" stroke-linejoin="round"/>
<polygon points="1313.6,817 1322.2,830 1305,830" fill="#000" stroke="#000" stroke-width="0.6" stroke-linejoin="round"/>
<polygon points="1402,835 1410.6,848.6 1393.4,848.6" fill="#000" stroke="#000" stroke-width="0.6" stroke-linejoin="round"/>
<polygon points="1482.2,831 1490.8,845 1473.6,845" fill="#000" stroke="#000" stroke-width="0.6" stroke-linejoin="round"/>
<polygon points="1579.8,835.4 1588.4,849.4 1571.2,849.4" fill="#000" stroke="#000" stroke-width="0.6" stroke-linejoin="round"/>
<text transform="translate(429.93,308.5) scale(1.0433,1)" font-family='"Liberation Sans", Arial, Helvetica, sans-serif' font-size="29.7" text-anchor="start" >kaolinite</text>
<text transform="translate(1028.3,308.5) scale(1.0561,1)" font-family='"Liberation Sans", Arial, Helvetica, sans-serif' font-size="29.7" text-anchor="start" >illite</text>
<text transform="translate(1409.35,308.5) scale(1.0323,1)" font-family='"Liberation Sans", Arial, Helvetica, sans-serif' font-size="29.7" text-anchor="start" >montmorillonite</text>
<text transform="translate(429.23,767.3) scale(1.0414,1)" font-family='"Liberation Sans", Arial, Helvetica, sans-serif' font-size="29.7" text-anchor="start" >kaolinite</text>
<text transform="translate(1027.31,767.3) scale(1.0519,1)" font-family='"Liberation Sans", Arial, Helvetica, sans-serif' font-size="29.7" text-anchor="start" >illite</text>
<text transform="translate(1408.36,767.3) scale(1.0283,1)" font-family='"Liberation Sans", Arial, Helvetica, sans-serif' font-size="29.7" text-anchor="start" >montmorillonite</text>
<polygon points="567.05,3.9 575.85,18.9 558.25,18.9" fill="#000" stroke="#000" stroke-width="0.6" stroke-linejoin="round"/>
<text transform="translate(601.34,24.1) scale(1.0269,1)" font-family='"Liberation Sans", Arial, Helvetica, sans-serif' font-size="30" text-anchor="start" >marine pH and IS</text>
<circle cx="875.9" cy="13.6" r="7.1" fill="#000"/>
<text transform="translate(918.79,24.1) scale(1.0225,1)" font-family='"Liberation Sans", Arial, Helvetica, sans-serif' font-size="30" text-anchor="start" >freshwater pH and IS</text>
<text transform="translate(15.4,50.6) scale(0.9608,1)" font-family='"Liberation Serif", "Times New Roman", Times, serif' font-size="62" text-anchor="start" >A</text>
<text transform="translate(-0.7,529.6) scale(1.0033,1)" font-family='"Liberation Serif", "Times New Roman", Times, serif' font-size="59.8" text-anchor="start" >B</text>
<text transform="translate(633.94,942.7) scale(1.0404,1)" font-family='"Liberation Sans", Arial, Helvetica, sans-serif' font-size="29.6" text-anchor="start" >Equilibrium Cd concentration (mg/L)</text>
<text transform="translate(82.1,360.64) rotate(-90) scale(1.0588,1)" font-family='"Liberation Sans", Arial, Helvetica, sans-serif' font-size="29" text-anchor="start" >Cd adsorbed (mg/g)</text>
<text transform="translate(68,798.13) rotate(-90) scale(1.0567,1)" font-family='"Liberation Sans", Arial, Helvetica, sans-serif' font-size="29" text-anchor="start" >Cd adsorbed (%)</text>
</svg></body></html>
